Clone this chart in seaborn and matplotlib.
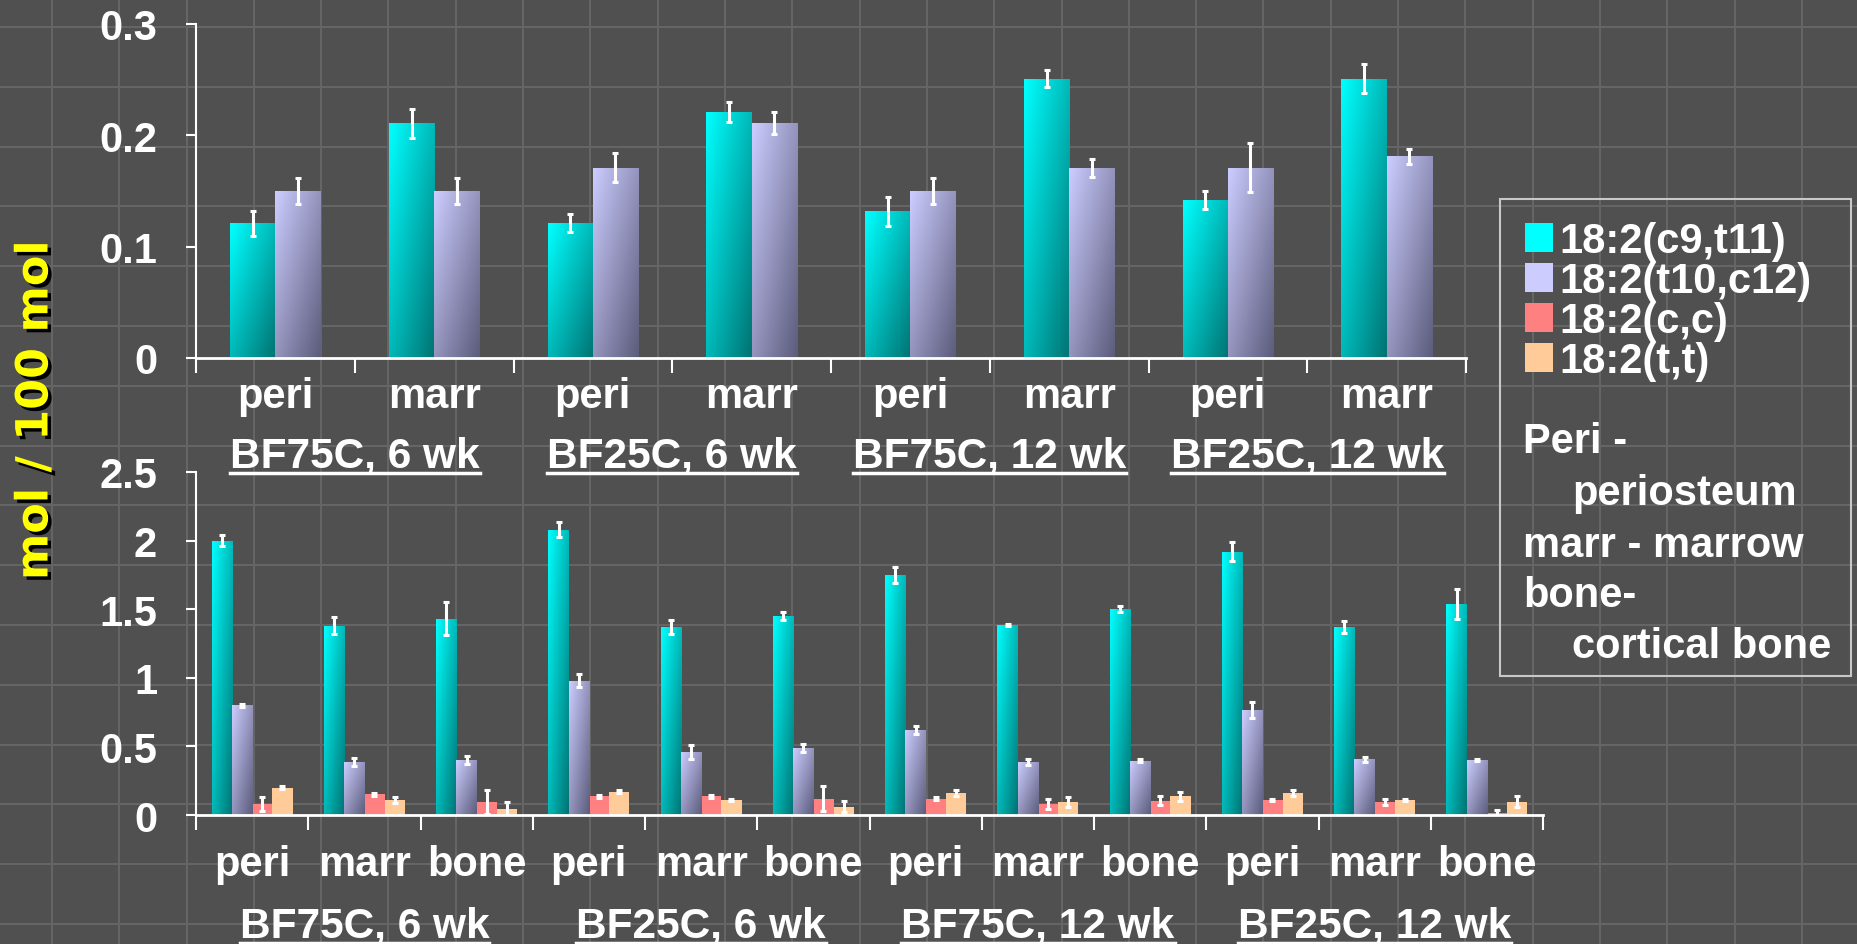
import numpy as np
import pandas as pd
import matplotlib
matplotlib.use('Agg')
import matplotlib.pyplot as plt
import seaborn as sns
import matplotlib.patheffects as pe
from matplotlib.colors import LinearSegmentedColormap
from matplotlib.patches import Patch, Rectangle
from matplotlib.lines import Line2D
from matplotlib.transforms import IdentityTransform
from matplotlib.container import BarContainer

groups = ['BF75C, 6 wk', 'BF25C, 6 wk', 'BF75C, 12 wk', 'BF25C, 12 wk']
isomers = ['18:2(c9,t11)', '18:2(t10,c12)', '18:2(c,c)', '18:2(t,t)']

# top panel: peri / marr for each group
top_tissues = ['peri', 'marr']
top_c9t11 = [0.121, 0.211, 0.121, 0.221, 0.132, 0.251, 0.142, 0.251]
top_c9t11_err = [0.011, 0.013, 0.008, 0.009, 0.013, 0.008, 0.008, 0.013]
top_t10c12 = [0.150, 0.150, 0.171, 0.211, 0.150, 0.171, 0.171, 0.181]
top_t10c12_err = [0.012, 0.012, 0.013, 0.010, 0.012, 0.008, 0.022, 0.007]

# bottom panel: peri / marr / bone for each group
bot_tissues = ['peri', 'marr', 'bone']
bot_c9t11 = [2.00, 1.38, 1.43, 2.08, 1.37, 1.45, 1.75, 1.385, 1.50, 1.92, 1.37, 1.54]
bot_c9t11_err = [0.04, 0.06, 0.12, 0.055, 0.05, 0.03, 0.06, 0.01, 0.02, 0.07, 0.045, 0.11]
bot_t10c12 = [0.80, 0.385, 0.40, 0.98, 0.46, 0.49, 0.62, 0.385, 0.395, 0.765, 0.405, 0.40]
bot_t10c12_err = [0.01, 0.03, 0.03, 0.05, 0.05, 0.03, 0.03, 0.02, 0.01, 0.055, 0.02, 0.01]
bot_cc = [0.08, 0.15, 0.095, 0.135, 0.135, 0.12, 0.12, 0.08, 0.105, 0.11, 0.095, 0.015]
bot_cc_err = [0.05, 0.01, 0.09, 0.01, 0.01, 0.09, 0.01, 0.035, 0.03, 0.01, 0.02, 0.02]
bot_tt = [0.20, 0.11, 0.045, 0.17, 0.11, 0.06, 0.16, 0.095, 0.135, 0.16, 0.11, 0.095]
bot_tt_err = [0.01, 0.02, 0.05, 0.01, 0.01, 0.04, 0.02, 0.035, 0.03, 0.02, 0.01, 0.04]

light = ['#00ffff', '#ccccff', '#ff8080', '#ffcc99']
dark = ['#007373', '#5c5c7c', '#803a3a', '#7f6242']

W, H = 1857, 945
BG = '#505050'
plt.rcParams['font.family'] = ['Liberation Sans', 'DejaVu Sans']
plt.rcParams['font.weight'] = 'bold'

fig = plt.figure(figsize=(W / 100, H / 100), dpi=100, facecolor=BG)

# slide background grid
ax_bg = fig.add_axes([0, 0, 1, 1], zorder=-10)
ax_bg.set_xlim(0, W)
ax_bg.set_ylim(H, 0)
ax_bg.vlines(np.arange(52 - 67.3, W, 67.3), 0, H, color='#666666', lw=1.4)
ax_bg.hlines(np.arange(28 - 59.8, H, 59.8), 0, W, color='#666666', lw=1.4)
ax_bg.axis('off')

ax_top = fig.add_axes([196 / W, 1 - 359 / H, (1466 - 196) / W, 334 / H])
ax_bot = fig.add_axes([196 / W, 1 - 816 / H, (1543 - 196) / W, 343 / H])

U, V = np.meshgrid(np.linspace(0, 1, 40), np.linspace(0, 1, 80))
grad = 0.5 * U + 0.5 * (1 - V)
cmaps = [LinearSegmentedColormap.from_list(f'g{i}', [light[i], dark[i]]) for i in range(4)]


def long_table(tissues, series):
    slots = [f'{g}|{t}' for g in groups for t in tissues]
    return pd.DataFrame({
        'slot': slots * len(series),
        'isomer': np.repeat(isomers[:len(series)], len(slots)),
        'value': np.concatenate(series),
    }), slots


def draw_panel(ax, tissues, series, errs, width, ymax, yticks, label_pad, group_y):
    df, slots = long_table(tissues, series)
    n = len(slots)
    sns.barplot(data=df, x='slot', y='value', hue='isomer', order=slots,
                hue_order=isomers[:len(series)], palette=light[:len(series)],
                width=width, saturation=1, errorbar=None, legend=False,
                linewidth=0, edgecolor='none', ax=ax)
    bars = [c for c in ax.containers if isinstance(c, BarContainer)]
    for i, cont in enumerate(bars):
        xs = [b.get_x() + b.get_width() / 2 for b in cont]
        hs = [b.get_height() for b in cont]
        if i < 2:
            for b in cont:
                im = ax.imshow(grad, extent=[b.get_x(), b.get_x() + b.get_width(), 0, b.get_height()],
                               origin='lower', cmap=cmaps[i], aspect='auto', zorder=b.get_zorder() + 0.1,
                               interpolation='bilinear')
                im.set_clip_path(b)
        ax.errorbar(xs, hs, yerr=errs[i], fmt='none', ecolor='white', elinewidth=2.2,
                    capsize=2.5, capthick=2.2, zorder=5)
    ax.set_xlim(-0.5, n - 0.5)
    ax.set_ylim(0, ymax)
    ax.set_facecolor('none')
    for s in ['top', 'right']:
        ax.spines[s].set_visible(False)
    ax.spines['left'].set_color('white')
    ax.spines['left'].set_linewidth(1.5)
    ax.spines['bottom'].set_color('white')
    ax.spines['bottom'].set_linewidth(2)
    ax.set_xlabel('')
    ax.set_ylabel('')
    ax.set_xticks(range(n))
    ax.set_xticklabels(tissues * len(groups))
    ax.set_xticks(np.arange(-0.5, n, 1), minor=True)
    ax.tick_params(axis='x', which='major', length=0, pad=label_pad, labelsize=30, labelcolor='white')
    ax.tick_params(axis='x', which='minor', length=11, width=1.5, color='white', direction='out')
    ax.set_yticks(yticks)
    ax.set_yticklabels([f'{t:g}' for t in yticks])
    ax.tick_params(axis='y', length=7, width=1.5, color='white', pad=21, labelsize=30, labelcolor='white')
    k = len(tissues)
    texts = []
    for g, name in enumerate(groups):
        texts.append(ax.text(g * k + (k - 1) / 2, group_y, name, transform=ax.get_xaxis_transform(),
                             ha='center', va='baseline', color='white', fontsize=30.5, fontweight='bold'))
    return texts


t_top = draw_panel(ax_top, top_tissues, [top_c9t11, top_t10c12], [top_c9t11_err, top_t10c12_err],
                   0.57, 0.3, [0, 0.1, 0.2, 0.3], 12.7, -(467 - 359) / 334)
t_bot = draw_panel(ax_bot, bot_tissues, [bot_c9t11, bot_t10c12, bot_cc, bot_tt],
                   [bot_c9t11_err, bot_t10c12_err, bot_cc_err, bot_tt_err],
                   0.72, 2.5, [0, 0.5, 1, 1.5, 2, 2.5], 20.6, -(937 - 816) / 343)

fig.text(35 / W, 1 - 411 / H, 'mol / 100 mol', rotation=90, color='#ffff00', fontsize=32,
         fontweight='bold', family='DejaVu Sans', ha='center', va='center',
         path_effects=[pe.withSimplePatchShadow(offset=(2.5, -2.5), shadow_rgbFace='black', alpha=1.0)])

# legend box
handles = [Patch(facecolor=c, edgecolor='none') for c in light]
leg = fig.legend(handles, isomers, loc='upper left', bbox_to_anchor=(1525 / W, 1 - 222 / H),
                 frameon=False, prop=dict(family='Liberation Sans', weight='bold', size=30),
                 labelcolor='white', handlelength=0.67, handleheight=0.72, handletextpad=0.15,
                 labelspacing=0.0, borderpad=0, borderaxespad=0)
fig.add_artist(Rectangle((1500 / W, 1 - 677 / H), 351 / W, 477 / H, transform=fig.transFigure,
                         fill=False, edgecolor='#c8c8c8', lw=1.5))
notes = [('Peri -', 1523, 453), ('periosteum', 1572, 505), ('marr - marrow', 1523, 557),
         ('bone-', 1523, 607), ('cortical bone', 1572, 658)]
for txt, x, y in notes:
    fig.text(x / W, 1 - y / H, txt, color='white', fontsize=30, fontweight='bold',
             ha='left', va='baseline')

fig.canvas.draw()
for i, p in enumerate(leg.get_patches()):
    bb = p.get_window_extent()
    ia = fig.add_axes([bb.x0 / W, bb.y0 / H, bb.width / W, bb.height / H])
    ia.imshow(grad, cmap=cmaps[i], origin='lower', aspect='auto', extent=[0, 1, 0, 1])
    ia.axis('off')

for t in t_top + t_bot:
    bb = t.get_window_extent()
    fig.add_artist(Line2D([bb.x0, bb.x1], [bb.y0 + 2, bb.y0 + 2], transform=IdentityTransform(),
                          color='white', lw=2.5))

fig.savefig('out.png', dpi=100, facecolor=BG)
